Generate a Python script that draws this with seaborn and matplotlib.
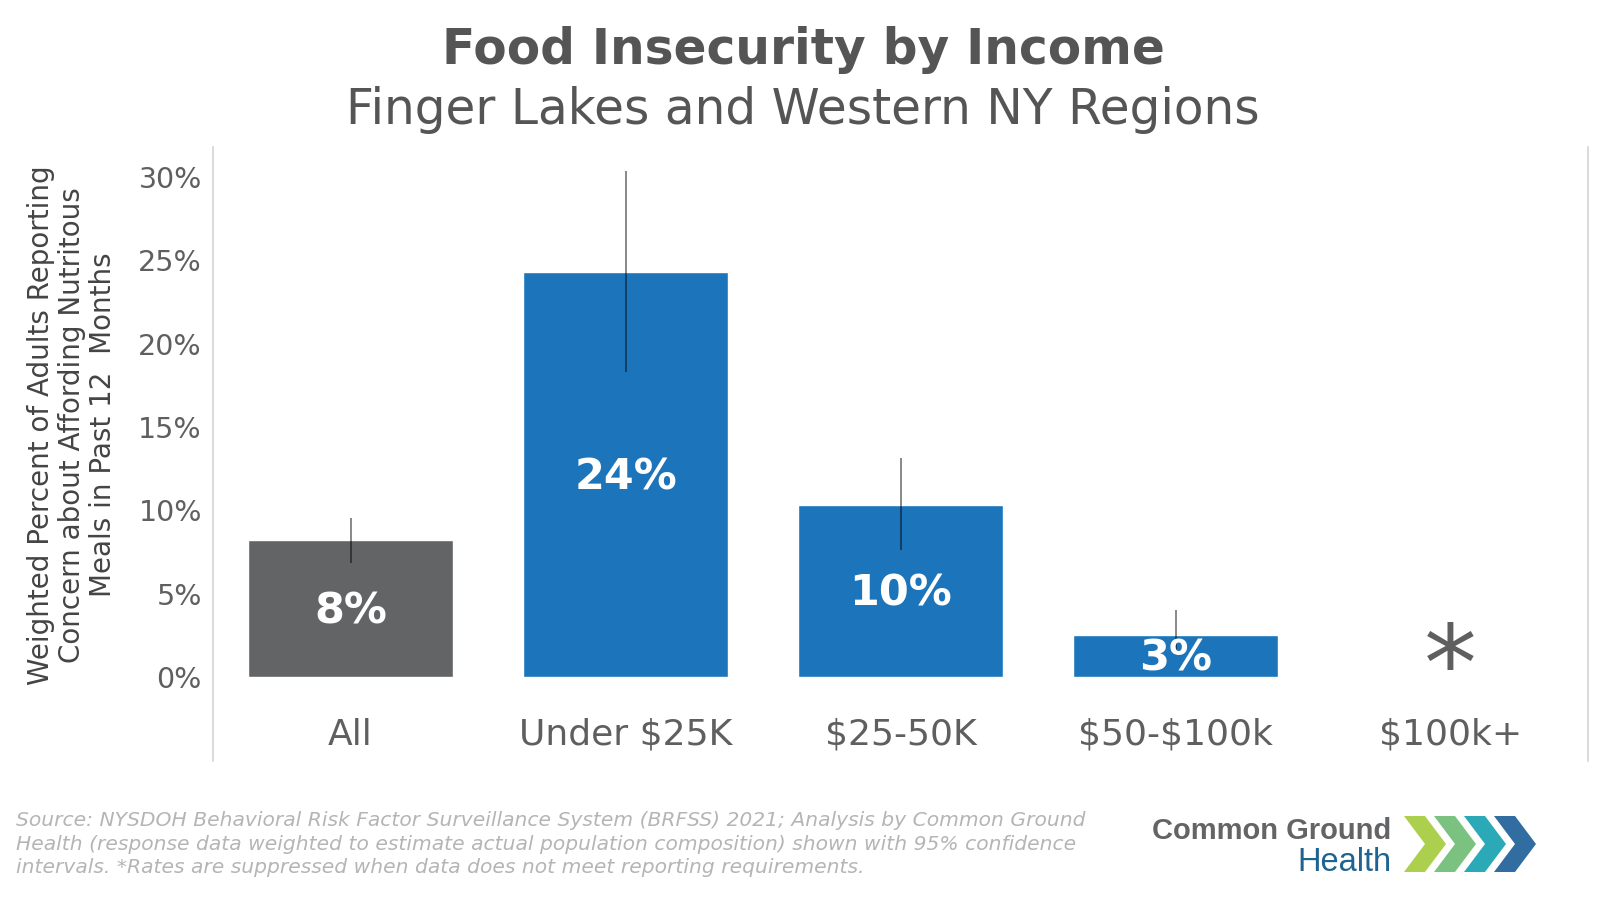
import numpy as np
import pandas as pd
import seaborn as sns
import matplotlib.pyplot as plt
from matplotlib.patches import Polygon

# data (percent)
categories = ['All', 'Under $25K', '$25-50K', '$50-$100k', '$100k+']
rates = [8.2, 24.3, 10.3, 2.5, np.nan]          # $100k+ suppressed
ci_low = [6.85, 18.3, 7.6, 1.3, np.nan]
ci_high = [9.55, 30.35, 13.15, 4.0, np.nan]
bar_labels = ['8%', '24%', '10%', '3%', '']
yticks = [0, 5, 10, 15, 20, 25, 30]

GRAY = '#636466'
BLUE = '#1c75bb'
TXT = '#5f5f5f'

sns.set_theme(style='white')
plt.rcParams['font.family'] = ['DejaVu Sans']
plt.rcParams['text.parse_math'] = False   # keep the $ signs literal

df = pd.DataFrame({'group': categories, 'rate': rates})
palette = {c: (GRAY if c == 'All' else BLUE) for c in categories}

fig = plt.figure(figsize=(16, 9), dpi=100)
ax = fig.add_axes([213 / 1600, 1 - 761 / 900, 1375 / 1600, 614 / 900])

sns.barplot(data=df, x='group', y='rate', hue='group', order=categories,
            palette=palette, legend=False, errorbar=None, width=0.745,
            saturation=1, ax=ax)

pos = np.arange(len(categories))
lo = np.array(ci_low)
hi = np.array(ci_high)
ok = ~np.isnan(lo)
ax.vlines(pos[ok], lo[ok], hi[ok], color='black', alpha=0.5, lw=1.3, zorder=3)

# value labels inside bars
for p, v, lab in zip(pos, rates, bar_labels):
    if np.isnan(v):
        # suppressed value marker
        ax.text(p, -1.35, '*', ha='center', va='baseline', fontsize=76,
                color=TXT)
        continue
    ax.annotate(lab, (p, v / 2), xytext=(0, -2), textcoords='offset points',
                ha='center', va='center', fontsize=31, fontweight='bold',
                color='white', zorder=4)

ax.set_xlim(-0.5, len(categories) - 0.5)
ax.set_ylim(-5.04, 31.8)
ax.set_yticks(yticks)
ax.set_yticklabels([f'{t}%' for t in yticks])
ax.set_xlabel('')
ax.set_ylabel('')
ax.tick_params(axis='y', length=0, pad=8, labelsize=20.5, labelcolor=TXT)
ax.tick_params(axis='x', length=0, pad=-19, labelsize=26, labelcolor=TXT)
for t in ax.get_xticklabels():
    t.set_va('center')

for s in ['top', 'bottom']:
    ax.spines[s].set_visible(False)
for s in ['left', 'right']:
    ax.spines[s].set_color('#d4d4d4')
    ax.spines[s].set_linewidth(1.2)

fig.text(0.502, 1 - 50 / 900, 'Food Insecurity by Income', ha='center',
         va='center', fontsize=35, fontweight='bold', color='#555555')
fig.text(0.5015, 1 - 110 / 900, 'Finger Lakes and Western NY Regions',
         ha='center', va='center', fontsize=35, color='#555555')

fig.text(72 / 1600, 1 - 425 / 900,
         'Weighted Percent of Adults Reporting\n'
         'Concern about Affording Nutritous\n'
         'Meals in Past 12  Months',
         rotation=90, ha='center', va='center', multialignment='center',
         fontsize=20, color='#444444', linespacing=1.15)

fig.text(16 / 1600, 1 - 844 / 900,
         'Source: NYSDOH Behavioral Risk Factor Surveillance System (BRFSS) 2021; '
         'Analysis by Common Ground\n'
         'Health (response data weighted to estimate actual population '
         'composition) shown with 95% confidence\n'
         'intervals. *Rates are suppressed when data does not meet reporting '
         'requirements.',
         ha='left', va='center', fontsize=14.6, style='italic', color='#b5b5b5',
         linespacing=1.3)

# logo
fig.text(1391 / 1600, 1 - 839 / 900, 'Common Ground', ha='right',
         va='baseline', fontsize=21, fontweight='bold', color='#636466',
         family=['Liberation Sans', 'DejaVu Sans'])
fig.text(1392 / 1600, 1 - 871 / 900, 'Health', ha='right', va='baseline',
         fontsize=23.5, color='#1f6391', family=['Liberation Sans', 'DejaVu Sans'])

chev_colors = ['#a3ca3a', '#6dbc72', '#14a0ae', '#1a5d96']
x0, top, bot, w, th, step = 1404, 816, 872, 42, 21, 30
mid = (top + bot) / 2
for i, c in enumerate(chev_colors):
    xs = x0 + i * step
    pts = [(xs, top), (xs + th, top), (xs + w, mid), (xs + th, bot),
           (xs, bot), (xs + w - th, mid)]
    pts = [(px / 1600, 1 - py / 900) for px, py in pts]
    fig.add_artist(Polygon(pts, closed=True, facecolor=c, edgecolor='none',
                           alpha=0.9, transform=fig.transFigure))

fig.savefig('out.png', dpi=100)
